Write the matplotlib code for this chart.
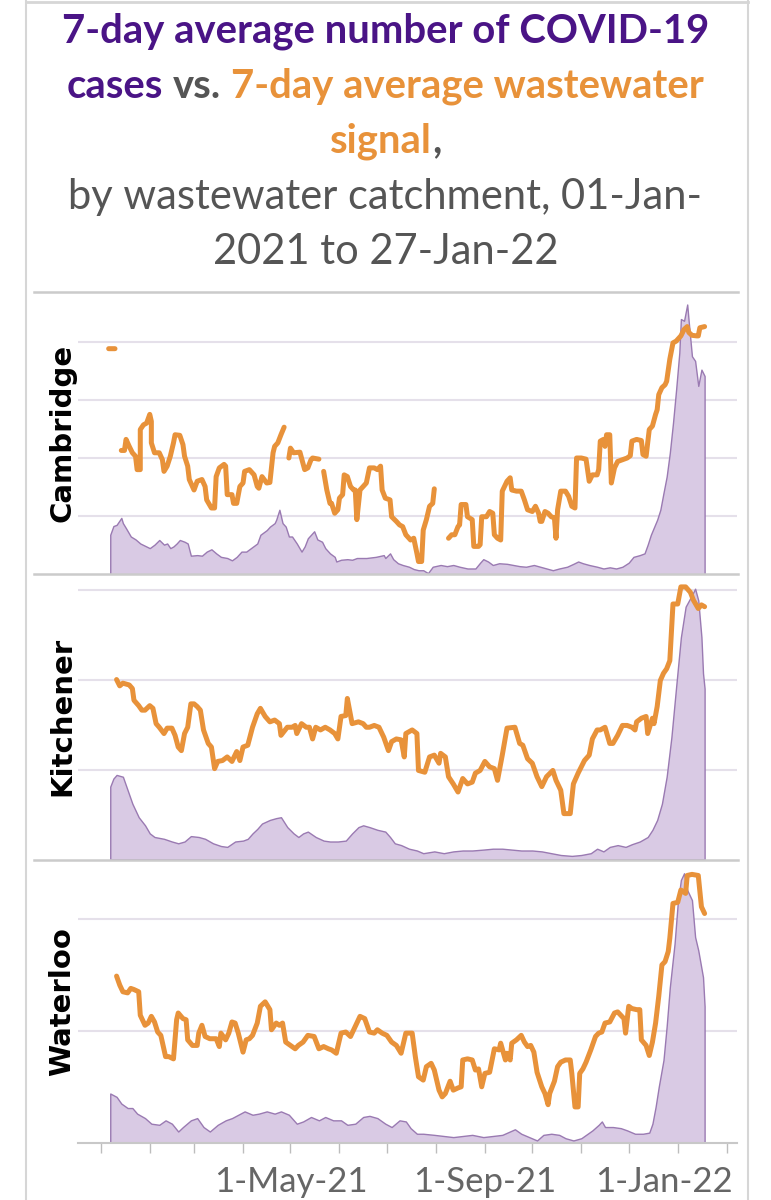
import numpy as np
import matplotlib
matplotlib.use("Agg")
import matplotlib.pyplot as plt
import matplotlib.dates as mdates
from matplotlib.lines import Line2D
from matplotlib.transforms import ScaledTranslation

# ---------------- data (day offsets from 2021-01-01, values in relative units) -------------
nan = np.nan

cam_ww_days = [5, 9, 10,
               13, 15, 16, 18, 20, 22, 23, 25, 25, 27, 29, 31, 32, 32, 34, 37, 39, 40, 42, 44, 46, 47,
               50, 52, 53, 55, 56, 59, 61, 64, 66, 67, 70, 72, 73, 75, 78, 79, 80, 83, 84, 86, 88, 90,
               91, 94, 97, 99, 100, 102, 105, 107, 109, 110, 112, 114, 116, 117,
               119, 120, 122, 126, 127, 129, 131, 133, 134, 138, 139,
               141, 143, 145, 146, 148, 150, 151, 153, 154, 156, 158, 160, 161, 162, 164, 166, 168, 170,
               173, 175, 177, 178, 180, 183, 184, 187, 189, 191, 193, 196, 198, 200, 201, 203, 204, 206,
               208, 210, 211, 212,
               220, 222, 224, 226, 227, 228, 231, 232, 235, 236, 239, 240, 241, 244, 246, 248, 249, 251,
               253, 254, 257, 259, 260, 263, 266, 268, 270, 273, 275, 277, 278, 279, 281, 283, 285, 287,
               288, 289, 291, 294, 296, 298, 300, 301, 304, 307, 309, 311, 314, 315, 316, 318, 319, 320,
               322, 323, 325, 327, 330, 333, 335, 336, 339, 342, 343, 345, 347, 349, 351, 352, 353, 355,
               357, 358, 360, 362, 364, 367, 369, 371, 372, 374, 377, 378, 379, 382]
cam_ww_vals = [38.8, 38.8, nan,
               21.3, 21.3, 23.2, 22.0, 20.9, 20.3, 18.0, 18.0, 24.9, 25.7, 26.0, 27.5, 26.3, 22.6, 20.9,
               20.9, 19.7, 17.7, 18.6, 20.3, 22.6, 24.0,
               23.9, 22.3, 20.3, 18.6, 16.3, 14.5, 16.0, 16.3, 15.1, 12.8, 11.4, 11.4, 16.8, 18.3, 18.9,
               18.6, 13.7, 13.7, 12.2, 12.2, 15.1, 15.7,
               17.7, 18.0, 17.1, 15.1, 14.8, 16.8, 15.7, 15.8, 20.9, 22.0, 22.6, 24.0, 25.3, nan,
               20.0, 21.7, 20.9, 21.0, 20.0, 18.0, 18.3, 19.7, 20.0, 19.8, nan,
               17.7, 14.5, 12.2, 12.2, 10.5, 11.1, 13.1, 13.7, 17.1, 16.8, 15.1, 14.5, 14.5, 9.4, 14.5,
               15.1, 15.7, 18.3,
               18.3, 18.0, 18.6, 14.5, 13.1, 12.8, 9.9, 9.1, 8.5, 8.2, 6.8, 5.9, 6.2, 3.6, 2.2, 2.2, 7.6,
               9.4,
               11.7, 12.2, 14.7, nan,
               6.2, 6.8, 6.8, 8.2, 8.5, 12.0, 12.0, 9.9, 9.4, 4.8, 4.8, 5.1, 9.9, 9.9, 10.8, 10.5, 6.8, 6.2,
               5.9, 14.3, 16.0, 16.6, 14.5, 14.3, 14.3, 12.8, 11.1, 10.8, 11.7, 10.5, 9.1, 9.1, 10.8, 10.5,
               9.9, 9.7,
               6.2, 11.1, 14.3, 14.3, 13.4, 11.7, 11.4, 20.0, 20.0, 19.8, 16.0, 17.1, 17.1, 18.0, 22.9, 23.2,
               22.0, 24.0,
               24.0, 15.7, 18.3, 19.4, 19.7, 20.0, 20.4, 22.9, 23.2, 23.0, 20.6, 20.3, 24.9, 25.5, 27.5,
               28.3, 30.9, 32.1,
               32.6, 33.2, 37.0, 39.8, 40.1, 41.0, 42.1, 42.6, 41.6, 41.1, 41.0, 41.0, 42.4, 42.6]

cam_case_days = [6, 8, 10, 13, 14, 16, 19, 22, 25, 28, 31, 34, 37, 40, 42, 44, 46, 48, 50, 53, 55, 57,
                 61, 64, 67, 70, 73, 76, 80, 83, 86, 89, 92, 95, 99, 101, 103, 105, 107, 110, 111, 113,
                 115, 117, 119, 121, 124, 127, 129, 131, 133, 135, 137, 140, 142, 145, 148, 149, 152,
                 156, 159, 162, 165, 168, 171, 174, 179, 180, 183, 185, 188, 191, 195, 198, 201, 204,
                 207, 210, 215, 219, 223, 227, 232, 237, 240, 242, 245, 248, 252, 257, 261, 265, 269,
                 274, 278, 282, 286, 290, 295, 299, 302, 305, 309, 314, 318, 322, 326, 330, 334, 337,
                 341, 344, 346, 348, 352, 354, 356, 358, 360, 362, 364, 366, 367, 369, 371, 372, 374,
                 376, 378, 380, 382]
cam_case_vals = [6.8, 8.3, 8.5, 9.7, 8.8, 7.9, 6.5, 6.0, 5.3, 4.9, 4.5, 5.1, 5.9, 5.1, 5.3, 4.5, 4.8,
                 5.3, 5.9, 5.6, 5.3, 3.2, 3.3, 3.2, 3.9, 4.3, 3.6, 3.0, 2.8, 2.4, 3.0, 3.9, 3.9, 4.5,
                 5.3, 6.8, 7.2, 7.6, 8.2, 8.8, 9.4, 11.1, 8.8, 8.2, 6.5, 6.5, 5.3, 3.9, 4.8, 6.2, 6.8,
                 7.4, 6.0, 5.6, 4.5, 3.6, 3.0, 2.2, 2.5, 2.6, 2.5, 2.8, 2.8, 2.8, 2.9, 3.0, 3.3, 2.8,
                 3.6, 2.6, 1.9, 1.6, 1.3, 0.9, 0.7, 0.7, 0.2, 1.3, 1.6, 1.4, 1.6, 1.3, 1.0, 1.0, 2.0,
                 2.6, 2.2, 1.6, 1.9, 1.8, 1.6, 1.4, 1.3, 1.6, 1.3, 1.0, 0.7, 1.0, 1.3, 1.8, 2.2, 1.9,
                 1.6, 1.3, 1.0, 1.2, 1.0, 1.3, 2.0, 3.0, 3.3, 3.6, 5.1, 6.8, 9.4, 11.1, 14.0, 16.8,
                 20.9, 26.0, 31.8, 38.1, 43.9, 43.6, 46.4, 43.3, 37.5, 36.7, 32.4, 35.2, 34.1]

kit_ww_days = [10, 12, 14, 18, 20, 21, 24, 26, 28, 31, 33, 35, 37, 40, 42, 45, 47, 49, 51, 53, 55, 57,
               59, 61, 63, 65, 68, 70, 72, 74, 77, 80, 83, 86, 88, 90, 93, 96, 99, 101, 104, 107, 110,
               113, 114, 118, 121, 123, 124, 127, 130, 132, 134, 136, 139, 142, 145, 148, 150, 152,
               155, 156, 158, 159, 163, 166, 168, 170, 173, 176, 179, 182, 184, 187, 190, 192, 193,
               197, 200, 201, 205, 208, 211, 214, 215, 218, 220, 223, 226, 229, 232, 235, 237, 240,
               243, 246, 249, 251, 254, 257, 262, 265, 267, 270, 273, 276, 279, 282, 286, 288, 291,
               293, 297, 299, 302, 306, 309, 311, 314, 316, 319, 322, 324, 327, 330, 333, 336, 338,
               339, 342, 345, 346, 349, 350, 352, 354, 356, 358, 360, 362, 365, 367, 370, 373, 375,
               378, 380, 382]
kit_ww_vals = [20.0, 19.3, 19.6, 19.4, 19.0, 17.7, 17.1, 16.6, 16.6, 17.1, 16.8, 15.1, 14.7, 14.0,
               14.6, 14.6, 13.8, 12.5, 12.1, 14.0, 14.7, 17.3, 17.3, 17.0, 16.6, 14.4, 12.9, 12.5,
               10.1, 10.9, 11.0, 11.4, 10.9, 12.0, 11.0, 12.5, 12.7, 14.7, 16.2, 16.8, 15.9, 15.3,
               15.5, 15.1, 13.8, 14.7, 14.7, 14.9, 14.0, 15.1, 14.7, 14.7, 13.4, 14.7, 14.4, 14.7,
               14.4, 14.0, 13.4, 15.9, 16.0, 17.9, 16.0, 15.1, 15.3, 15.1, 14.7, 14.7, 14.9, 14.7,
               13.6, 12.1, 13.1, 13.4, 13.3, 11.4, 14.0, 14.4, 14.0, 9.9, 9.7, 11.4, 11.6, 10.7,
               11.8, 11.4, 9.2, 8.4, 7.5, 9.0, 8.4, 8.6, 9.6, 9.9, 10.9, 10.3, 10.1, 8.8, 11.6, 14.6,
               14.7, 12.9, 12.7, 11.2, 10.7, 9.2, 8.1, 9.2, 9.9, 8.8, 7.7, 5.1, 5.1, 8.4, 9.6, 11.0,
               11.6, 13.4, 14.4, 14.4, 14.7, 12.9, 12.9, 13.8, 14.9, 14.9, 14.7, 14.4, 15.3, 15.7,
               15.9, 14.0, 15.7, 15.1, 17.0, 19.9, 20.7, 21.2, 22.1, 28.4, 28.4, 30.3, 30.3, 29.7,
               28.8, 27.9, 28.3, 28.1]

kit_case_days = [6, 8, 10, 14, 17, 20, 24, 28, 31, 34, 40, 45, 49, 53, 57, 62, 66, 71, 76, 80, 85, 90,
                 93, 96, 99, 102, 107, 111, 114, 118, 122, 125, 128, 131, 136, 141, 145, 150, 155, 159,
                 163, 166, 170, 175, 180, 183, 186, 190, 195, 200, 204, 211, 217, 223, 229, 235, 242,
                 248, 254, 260, 266, 273, 279, 285, 291, 298, 304, 310, 314, 318, 322, 327, 332, 336,
                 341, 346, 349, 352, 355, 358, 361, 364, 367, 370, 374, 376, 378, 380, 381, 382]
kit_case_vals = [8.1, 9.0, 9.4, 9.2, 7.7, 6.2, 4.7, 3.8, 2.9, 2.5, 2.3, 2.0, 1.8, 2.0, 2.6, 2.5, 2.3,
                 1.8, 1.5, 1.4, 2.0, 2.1, 2.3, 2.9, 3.4, 4.0, 4.4, 4.6, 4.7, 3.6, 2.9, 2.5, 2.9, 3.1,
                 2.5, 2.1, 2.0, 2.0, 2.1, 2.9, 3.6, 3.8, 3.6, 3.3, 3.1, 2.5, 1.8, 1.6, 1.2, 1.0, 0.7,
                 0.9, 0.7, 0.9, 1.0, 1.0, 1.1, 1.2, 1.2, 1.1, 1.0, 1.0, 0.9, 0.7, 0.5, 0.4, 0.5, 0.7,
                 1.2, 0.9, 1.4, 1.6, 1.4, 1.7, 2.0, 2.5, 3.3, 4.4, 6.2, 9.2, 13.6, 19.2, 24.7, 28.1,
                 29.4, 30.1, 28.8, 24.7, 20.7, 19.0]

wat_ww_days = [10, 12, 14, 17, 19, 21, 24, 25, 28, 30, 32, 34, 36, 38, 41, 43, 46, 48, 49, 52, 54, 55,
               58, 61, 62, 64, 66, 69, 73, 75, 76, 79, 81, 83, 85, 87, 90, 92, 94, 96, 99, 101, 104,
               107, 108, 111, 113, 115, 117, 120, 123, 125, 128, 131, 135, 138, 141, 144, 146, 149,
               152, 155, 158, 161, 164, 167, 170, 173, 175, 178, 181, 184, 187, 190, 193, 197, 199,
               201, 204, 206, 209, 211, 214, 216, 218, 221, 223, 226, 228, 229, 232, 235, 237, 239,
               241, 243, 246, 249, 252, 253, 256, 257, 259, 260, 263, 266, 268, 270, 272, 274, 276,
               279, 281, 283, 284, 287, 289, 291, 294, 297, 298, 300, 302, 303, 305, 307, 310, 313,
               315, 317, 319, 322, 325, 327, 329, 331, 332, 334, 336, 339, 341, 342, 345, 347, 349,
               351, 353, 355, 357, 359, 360, 362, 365, 367, 370, 371, 374, 378, 380, 382]
wat_ww_vals = [14.9, 14.1, 13.5, 13.4, 13.8, 13.7, 13.5, 11.4, 10.5, 10.7, 11.3, 10.8, 9.9, 9.6, 7.7,
               7.7, 7.5, 11.0, 11.6, 11.1, 11.0, 9.2, 8.7, 8.7, 9.8, 10.5, 9.5, 9.3, 9.3, 8.6, 9.8,
               9.2, 9.8, 10.8, 10.7, 9.8, 8.1, 9.2, 9.3, 9.6, 10.7, 12.2, 12.6, 11.9, 10.1, 10.7,
               10.5, 10.7, 9.0, 8.7, 8.4, 8.7, 9.0, 9.6, 9.5, 8.4, 8.6, 8.4, 8.3, 8.0, 9.8, 9.9, 9.5,
               10.4, 11.3, 11.1, 9.9, 9.8, 10.1, 9.8, 9.6, 9.0, 8.7, 8.0, 9.8, 9.8, 7.7, 5.9, 5.6,
               6.8, 7.1, 6.5, 4.7, 4.1, 4.4, 5.5, 4.7, 4.9, 5.0, 7.4, 7.5, 7.4, 6.5, 6.6, 5.0, 6.2,
               6.3, 8.4, 8.3, 8.9, 7.4, 8.0, 7.4, 8.9, 9.2, 9.6, 9.0, 8.6, 8.7, 8.1, 6.3, 5.0, 4.4,
               3.4, 4.4, 5.5, 6.8, 7.2, 7.4, 7.4, 6.2, 3.2, 3.2, 6.2, 6.6, 7.2, 8.3, 9.5, 9.8, 9.9,
               10.7, 10.8, 11.6, 11.7, 11.4, 11.1, 9.8, 12.2, 12.0, 11.9, 11.9, 9.2, 8.7, 7.8, 9.0,
               10.7, 13.1, 15.9, 16.2, 17.1, 18.3, 21.4, 21.5, 22.6, 22.3, 23.9, 24.0, 23.9, 21.1,
               20.5]

wat_case_days = [6, 10, 13, 17, 20, 23, 28, 32, 37, 41, 45, 49, 52, 57, 61, 65, 69, 74, 79, 83, 87,
                 91, 96, 100, 105, 110, 114, 119, 124, 128, 133, 138, 142, 147, 152, 156, 161, 166,
                 170, 175, 180, 184, 189, 193, 196, 200, 204, 211, 217, 223, 229, 235, 242, 248, 254,
                 262, 266, 271, 276, 280, 285, 290, 294, 299, 304, 308, 311, 315, 317, 319, 324, 329,
                 333, 338, 343, 347, 349, 351, 353, 356, 358, 360, 363, 365, 367, 369, 371, 374, 376,
                 378, 381, 382]
wat_case_vals = [4.4, 4.1, 3.5, 3.1, 3.1, 2.6, 2.2, 1.7, 1.6, 2.0, 1.7, 1.0, 1.4, 2.0, 2.2, 1.4, 1.0,
                 1.6, 2.0, 2.2, 2.5, 2.8, 2.5, 2.6, 2.8, 2.6, 2.8, 2.5, 1.7, 1.9, 2.3, 2.0, 2.3, 2.0,
                 2.0, 1.6, 1.7, 2.3, 2.4, 2.2, 1.7, 1.4, 2.0, 1.9, 1.3, 0.8, 0.8, 0.7, 0.6, 0.5, 0.6,
                 0.7, 0.5, 0.6, 0.7, 1.2, 0.8, 0.5, 0.2, 0.7, 0.8, 0.7, 0.4, 0.2, 0.4, 0.8, 1.1, 1.6,
                 1.9, 1.4, 1.4, 1.3, 1.1, 0.8, 0.8, 0.9, 1.7, 3.2, 5.0, 7.4, 10.4, 13.9, 17.8, 21.4,
                 23.5, 24.1, 22.6, 21.7, 18.4, 17.2, 14.8, 12.2]

catchments = ["Cambridge", "Kitchener", "Waterloo"]
tick_months = ["2021-01-01", "2021-02-01", "2021-03-01", "2021-04-01", "2021-05-01", "2021-06-01",
               "2021-07-01", "2021-08-01", "2021-09-01", "2021-10-01", "2021-11-01", "2021-12-01",
               "2022-01-01", "2022-02-01"]
tick_labels = ["", "", "", "", "1-May-21", "", "", "", "1-Sep-21", "", "", "", "1-Jan-22", ""]

# ---------------- styling ----------------
W, H, DPI = 771, 1200, 100
PURPLE_T = "#4a1486"
ORANGE = "#e8923a"
GREY_T = "#555555"
FILL = "#d9cae4"
EDGE = "#9a7ab2"
GRID = "#e5e0ea"
SEP = "#cbcbcb"
TITLE_FONT = ["Lato", "DejaVu Sans"]

base = np.datetime64("2021-01-01")
base_num = mdates.date2num(base)


def to_dates(days):
    return base + np.array(days).astype("timedelta64[D]")


fig = plt.figure(figsize=(W / DPI, H / DPI), dpi=DPI)
fig.patch.set_facecolor("white")


def rect(left, top, right, bottom):
    return [left / W, 1 - bottom / H, (right - left) / W, (bottom - top) / H]


panels = [
    dict(name=catchments[0], box=(78, 291.7, 737, 574.3), ymax=48.6, grid=[10, 20, 30, 40],
         ww=(cam_ww_days, cam_ww_vals), cases=(cam_case_days, cam_case_vals)),
    dict(name=catchments[1], box=(78, 574.3, 737, 859.5), ymax=31.7, grid=[10, 20, 30],
         ww=(kit_ww_days, kit_ww_vals), cases=(kit_case_days, kit_case_vals)),
    dict(name=catchments[2], box=(78, 859.5, 737, 1142.7), ymax=25.33, grid=[10, 20],
         ww=(wat_ww_days, wat_ww_vals), cases=(wat_case_days, wat_case_vals)),
]

axes = []
for i, p in enumerate(panels):
    ax = fig.add_axes(rect(*p["box"]))
    axes.append(ax)
    cd, cv = p["cases"]
    ax.fill_between(to_dates(cd), cv, 0, facecolor=FILL, edgecolor=EDGE, linewidth=1.0, zorder=2)
    wd, wv = p["ww"]
    ax.plot(to_dates(wd), wv, color=ORANGE, lw=3.6, solid_capstyle="round",
            solid_joinstyle="round", zorder=3)
    ax.set_ylim(0, p["ymax"])
    ax.set_xlim(base_num - 14.4, base_num + 402.5)
    ax.set_yticks(p["grid"])
    ax.yaxis.grid(True, color=GRID, lw=1.5, zorder=0)
    ax.set_axisbelow(True)
    ax.tick_params(axis="y", length=0, labelleft=False)
    for s in ["top", "left", "right"]:
        ax.spines[s].set_visible(False)
    ax.set_facecolor("none")
    if i < 2:
        ax.spines["bottom"].set_visible(False)
        ax.tick_params(axis="x", length=0, labelbottom=False)
    else:
        ax.spines["bottom"].set_color("#c8c8c8")
        ax.spines["bottom"].set_linewidth(1.5)
        ax.set_xticks(mdates.date2num(np.array(tick_months, dtype="datetime64[D]")))
        ax.set_xticklabels(tick_labels)
        ax.tick_params(axis="x", direction="out", length=7, width=1, color="#bdbdbd",
                       labelsize=25, labelcolor="#666666", pad=10)
        for lbl in ax.get_xticklabels():
            lbl.set_fontfamily(TITLE_FONT)
        for l in ax.get_xticklabels():
            if l.get_text() == "1-Jan-22":
                l.set_horizontalalignment("right")
                l.set_transform(l.get_transform() + ScaledTranslation(0.55, 0, fig.dpi_scale_trans))
    # panel label
    top, bottom = p["box"][1], p["box"][3]
    fig.text(70 / W, 1 - ((top + bottom) / 2) / H, p["name"], rotation=90, rotation_mode="anchor",
             ha="center", va="baseline", fontsize=21, fontweight="bold", family="DejaVu Sans",
             color="black")

# separators
for y in [291.7, 574.3, 859.5]:
    fig.add_artist(Line2D([34 / W, 738 / W], [1 - y / H, 1 - y / H], color=SEP, lw=1.8))

# page frame
for x in [26, 748]:
    fig.add_artist(Line2D([x / W, x / W], [0, 1], color="#d6d6d6", lw=1.5))
fig.add_artist(Line2D([26 / W, 748 / W], [1 - 1.5 / H, 1 - 1.5 / H], color="#d6d6d6", lw=2))

# ---------------- title ----------------
renderer = fig.canvas.get_renderer()


def measure(s, size, weight):
    t = fig.text(0, 0, s, fontsize=size, fontweight=weight, family=TITLE_FONT)
    w = t.get_window_extent(renderer).width
    t.remove()
    return w


def line(parts, baseline_px, size, weight):
    space = measure("x x", size, weight) - measure("xx", size, weight)
    widths = []
    for s, c in parts:
        widths.append(space if s == " " else measure(s, size, weight))
    total = sum(widths)
    x = W / 2 - total / 2
    for (s, c), w in zip(parts, widths):
        if s != " ":
            fig.text(x / W, 1 - baseline_px / H, s, fontsize=size, fontweight=weight,
                     family=TITLE_FONT, color=c, ha="left", va="baseline")
        x += w


TS = 28.8
SS = 30
line([("7-day average number of COVID-19", PURPLE_T)], 43, TS, "bold")
line([("cases", PURPLE_T), (" ", None), ("vs.", GREY_T), (" ", None),
      ("7-day average wastewater", ORANGE)], 97.5, TS, "bold")
line([("signal", ORANGE), (",", GREY_T)], 152, TS, "bold")
line([("by wastewater catchment, 01-Jan-", GREY_T)], 208.5, SS, "normal")
line([("2021 to 27-Jan-22", GREY_T)], 263.5, SS, "normal")

fig.savefig("out.png", dpi=DPI, facecolor="white")
